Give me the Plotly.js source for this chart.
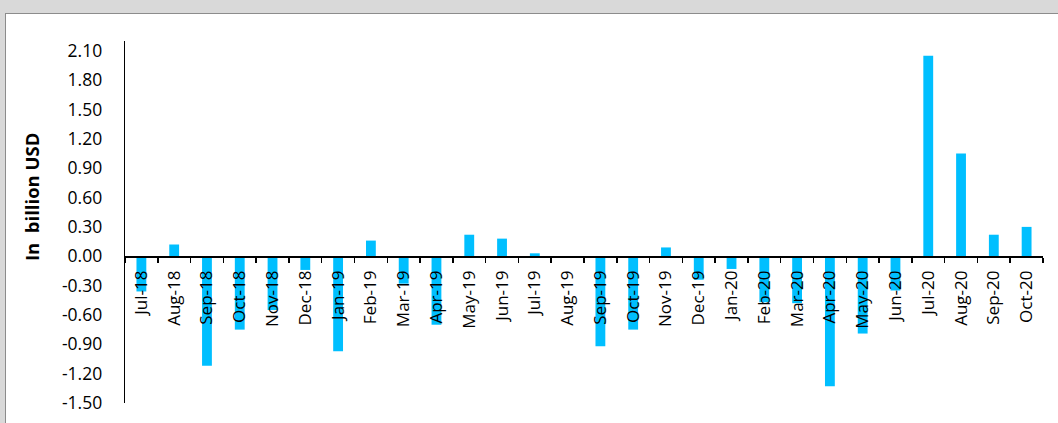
<!DOCTYPE html>
<html>
<head>
<meta charset="utf-8">
<script src="https://cdn.plot.ly/plotly-3.0.1.min.js"></script>
<style>
  html, body { margin: 0; padding: 0; background: #d9d9d9; width: 1058px; height: 423px; overflow: hidden; }
  #frame { position: absolute; left: 5px; top: 13px; width: 1053px; height: 410px; background: #ffffff; border-left: 1px solid #8c8c8c; border-top: 1px solid #8c8c8c; }
  #chart { width: 1052px; height: 409px; }
</style>
</head>
<body>
<div id="frame"><div id="chart"></div></div>
<script>
const months = ["Jul-18","Aug-18","Sep-18","Oct-18","Nov-18","Dec-18","Jan-19","Feb-19","Mar-19","Apr-19",
  "May-19","Jun-19","Jul-19","Aug-19","Sep-19","Oct-19","Nov-19","Dec-19","Jan-20","Feb-20",
  "Mar-20","Apr-20","May-20","Jun-20","Jul-20","Aug-20","Sep-20","Oct-20"];
const values = [-0.36, 0.12, -1.12, -0.75, -0.55, -0.14, -0.97, 0.16, -0.28, -0.70,
  0.22, 0.18, 0.03, 0.00, -0.92, -0.75, 0.09, -0.24, -0.13, -0.47,
  -0.48, -1.33, -0.79, -0.35, 2.05, 1.05, 0.22, 0.30];
const yTickVals = [-1.5, -1.2, -0.9, -0.6, -0.3, 0, 0.3, 0.6, 0.9, 1.2, 1.5, 1.8, 2.1];
const yTickText = ["-1.50","-1.20","-0.90","-0.60","-0.30","0.00","0.30","0.60","0.90","1.20","1.50","1.80","2.10"];
const yTitle = "In  billion USD";

const yMin = -1.5, yMax = 2.2;

const trace = {
  type: "bar",
  x: months,
  y: values,
  marker: { color: "#00BFFF" },
  hoverinfo: "x+y"
};

const layout = {
  width: 1052,
  height: 409,
  margin: { l: 119, r: 15, t: 27, b: 20 },
  paper_bgcolor: "#ffffff",
  plot_bgcolor: "#ffffff",
  showlegend: false,
  bargap: 0.7,
  font: { family: "Open Sans, sans-serif", color: "#000000" },
  xaxis: {
    type: "category",
    anchor: "free",
    position: (0 - yMin) / (yMax - yMin),
    showline: true,
    linecolor: "#000000",
    linewidth: 1.5,
    ticks: "outside",
    tickson: "boundaries",
    ticklen: 5,
    tickwidth: 1.5,
    tickcolor: "#000000",
    tickangle: -90,
    ticklabelstandoff: 6,
    tickfont: { family: "Open Sans, sans-serif", size: 17, color: "#000000" },
    showgrid: false,
    zeroline: false,
    fixedrange: true
  },
  yaxis: {
    range: [yMin, yMax],
    tickmode: "array",
    tickvals: yTickVals,
    ticktext: yTickText,
    showline: true,
    linecolor: "#000000",
    linewidth: 1.3,
    ticks: "",
    ticklabelstandoff: 18,
    tickfont: { family: "Open Sans, sans-serif", size: 17.5, color: "#000000" },
    showgrid: false,
    zeroline: false,
    fixedrange: true
  },
  annotations: [{
    text: "<b>" + yTitle + "</b>",
    xref: "paper", yref: "paper",
    x: -0.1017, y: 0.568,
    xanchor: "center", yanchor: "middle",
    textangle: -90,
    showarrow: false,
    font: { family: "Open Sans, sans-serif", size: 18.5, color: "#000000" }
  }]
};

Plotly.newPlot("chart", [trace], layout, { displayModeBar: false, staticPlot: true });
</script>
</body>
</html>
